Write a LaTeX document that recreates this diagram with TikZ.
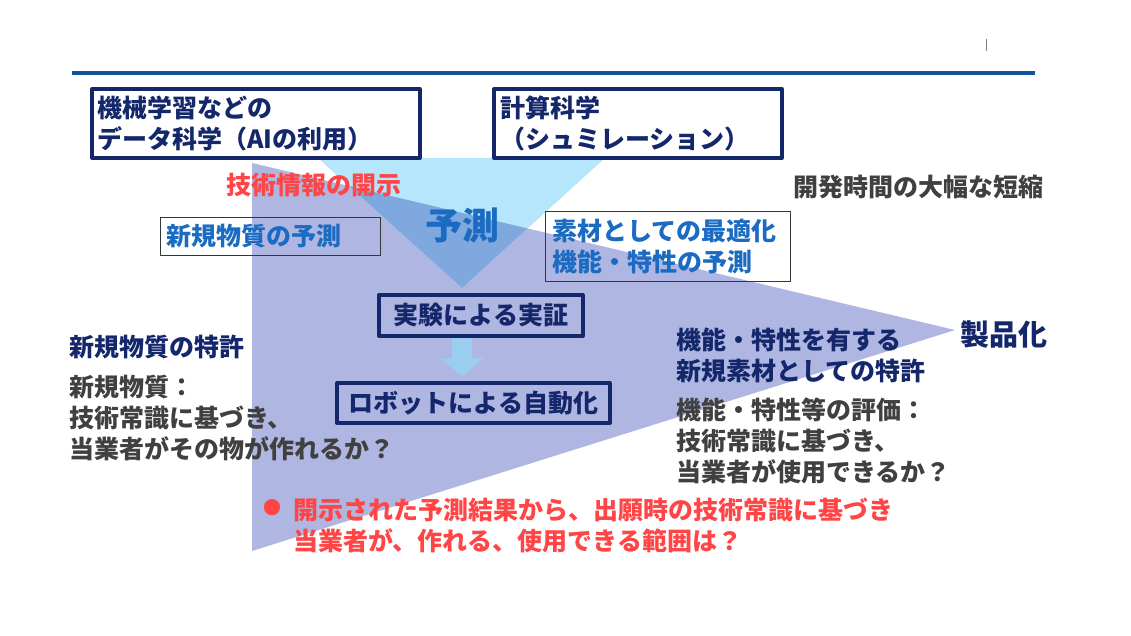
\documentclass[tikz,border=0pt]{standalone}
\usepackage{fontspec}
\setmainfont{Noto Sans CJK JP}
\usetikzlibrary{arrows.meta}

\definecolor{navy}{HTML}{14276B}
\definecolor{textblue}{HTML}{1A6BC1}
\definecolor{redtext}{HTML}{FF4545}
\definecolor{greytext}{HTML}{404040}
\definecolor{boxgrey}{HTML}{333833}
\definecolor{rulecol}{HTML}{12549A}
\definecolor{purplefill}{HTML}{AFB6E1}
\definecolor{skyfill}{HTML}{B5E6FB}
\definecolor{overlapfill}{HTML}{7FA8DE}
\definecolor{arrowfill}{HTML}{9ACDF0}

\newcommand{\fsz}[2]{\fontsize{#1}{#2}\selectfont}

\begin{document}
\begin{tikzpicture}[
  x=1pt, y=-1pt,
  line join=round,
  every node/.style={font=\bfseries\fsz{25}{31}, inner sep=0pt},
  navybox/.style={draw=navy, line width=3.3pt, text=navy, align=left},
  thinbox/.style={draw=boxgrey, line width=1pt, text=textblue, align=left},
  navytext/.style={text=navy},
  greytext/.style={text=greytext},
  redlabel/.style={text=redtext}
]
  \useasboundingbox (0,0) rectangle (1131,636);

  % Header rule and tick
  \draw[rulecol, line width=4.5pt] (72,73) -- (1035,73);
  \draw[gray, line width=0.8pt] (986,39) -- (986,51);

  % Big triangle (towards the product)
  \coordinate (P1) at (252,163);
  \coordinate (P2) at (252,551);
  \coordinate (P3) at (955,330);

  % Prediction triangle
  \coordinate (S1) at (318,158);
  \coordinate (S2) at (605,158);
  \coordinate (apex) at (462,288);

  \fill[purplefill] (P1) -- (P2) -- (P3) -- cycle;
  \fill[skyfill] (S1) -- (S2) -- (apex) -- cycle;

  % Overlap of both triangles
  \begin{scope}
    \clip (P1) -- (P2) -- (P3) -- cycle;
    \fill[overlapfill] (S1) -- (S2) -- (apex) -- cycle;
  \end{scope}

  % Top boxes
  \node[navybox, minimum width=328pt, minimum height=69pt,
        text width=318pt] (datasci) at (256,123.5)
    {機械学習などの\\データ科学（AIの利用）};
  \node[navybox, minimum width=288pt, minimum height=69pt,
        text width=276pt] (keisan) at (638,123.5)
    {計算科学\\（シュミレーション）};

  % Labels around the prediction
  \node[redlabel, anchor=west] (kaiji) at (226,185) {技術情報の開示};
  \node[greytext, anchor=west] (tanshuku) at (793,187) {開発時間の大幅な短縮};
  \node[text=textblue, font=\bfseries\fsz{37}{44}] (yosoku) at (462,226) {予測};

  \node[thinbox, minimum width=220pt, minimum height=37pt,
        text width=208pt] (shinki) at (270,236.5) {新規物質の予測};
  \node[thinbox, minimum width=245pt, minimum height=69pt,
        text width=231pt] (sozai) at (667.5,246.5)
    {素材としての最適化\\機能・特性の予測};

  % Experiment and automation
  \node[navybox, minimum width=204pt, minimum height=41pt] (jikken)
    at (481,315.5) {実験による実証};
  \node[navybox, minimum width=273pt, minimum height=40pt] (robot)
    at (473.5,403) {ロボットによる自動化};

  \draw[arrowfill, line width=20pt, -{Triangle[length=18pt,width=42pt]},
        shorten >=5pt] (jikken.south -| apex) -- (robot.north -| apex);

  % Left: patent for new substance
  \node[navytext, anchor=west] (tokkyo1) at (69,347) {新規物質の特許};
  \node[greytext, anchor=west, align=left] (tsukureru) at (69,418)
    {新規物質：\\技術常識に基づき、\\当業者がその物が作れるか？};

  % Right: patent for new material
  \node[navytext, font=\bfseries\fsz{29}{35}, anchor=west] (seihin)
    at (960,335) {製品化};
  \node[navytext, anchor=west, align=left] (tokkyo2) at (676,355.5)
    {機能・特性を有する\\新規素材としての特許};
  \node[greytext, anchor=west, align=left] (shiyou) at (676,441)
    {機能・特性等の評価：\\技術常識に基づき、\\当業者が使用できるか？};

  % Bottom question
  \node[redlabel, font=\fsz{18}{20}] (bullet) at (272,508) {●};
  \node[redlabel, anchor=west, align=left] (hanni) at (293,525.5)
    {開示された予測結果から、出願時の技術常識に基づき\\当業者が、作れる、使用できる範囲は？};
\end{tikzpicture}
\end{document}
